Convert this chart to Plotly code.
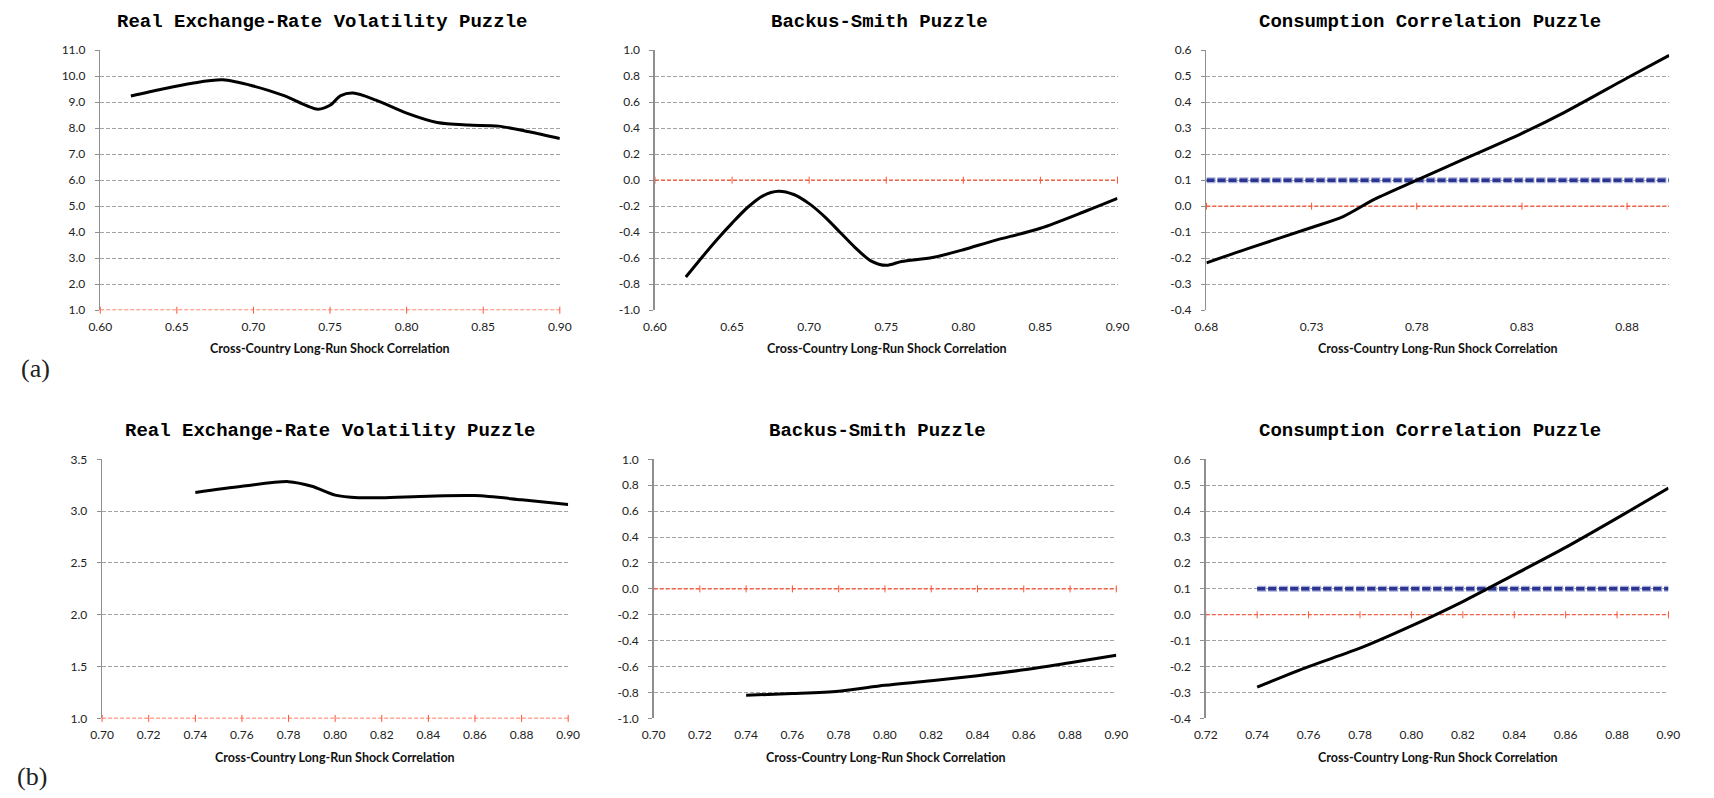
import plotly.graph_objects as go

W, H = 1714, 798

# ---------------- data ----------------
# Row (a)
a_vol_x = [0.62, 0.64, 0.66, 0.68, 0.70, 0.72, 0.742, 0.75, 0.757, 0.765, 0.78, 0.80, 0.82, 0.84, 0.86, 0.88, 0.90]
a_vol_y = [9.24, 9.50, 9.73, 9.86, 9.62, 9.25, 8.73, 8.88, 9.25, 9.35, 9.08, 8.58, 8.22, 8.12, 8.08, 7.86, 7.60]

a_bs_x = [0.62, 0.63, 0.64, 0.65, 0.66, 0.67, 0.68, 0.69, 0.70, 0.71, 0.72, 0.73, 0.74, 0.75, 0.76, 0.78, 0.80, 0.82, 0.85, 0.88, 0.90]
a_bs_y = [-0.745, -0.60, -0.46, -0.33, -0.21, -0.12, -0.085, -0.11, -0.18, -0.28, -0.40, -0.52, -0.62, -0.655, -0.625, -0.595, -0.535, -0.465, -0.37, -0.235, -0.14]

a_cc_x = [0.68, 0.70, 0.73, 0.745, 0.76, 0.78, 0.80, 0.83, 0.85, 0.88, 0.90]
a_cc_y = [-0.218, -0.162, -0.082, -0.04, 0.027, 0.10, 0.172, 0.28, 0.36, 0.493, 0.58]
a_cc_bench_x = [0.68, 0.90]
a_cc_bench_y = [0.1, 0.1]

# Row (b)
b_vol_x = [0.74, 0.76, 0.78, 0.79, 0.80, 0.81, 0.82, 0.84, 0.86, 0.88, 0.90]
b_vol_y = [3.18, 3.24, 3.285, 3.24, 3.155, 3.13, 3.13, 3.145, 3.15, 3.11, 3.065]

b_bs_x = [0.74, 0.76, 0.78, 0.80, 0.82, 0.84, 0.86, 0.88, 0.90]
b_bs_y = [-0.821, -0.808, -0.79, -0.745, -0.71, -0.67, -0.625, -0.57, -0.513]

b_cc_x = [0.74, 0.76, 0.78, 0.80, 0.82, 0.84, 0.86, 0.88, 0.90]
b_cc_y = [-0.279, -0.20, -0.129, -0.043, 0.051, 0.155, 0.26, 0.373, 0.489]
b_cc_bench_x = [0.74, 0.90]
b_cc_bench_y = [0.1, 0.1]

# ticks
xt_a12 = [0.60, 0.65, 0.70, 0.75, 0.80, 0.85, 0.90]
xt_a3 = [0.68, 0.73, 0.78, 0.83, 0.88]
xt_b12 = [0.70, 0.72, 0.74, 0.76, 0.78, 0.80, 0.82, 0.84, 0.86, 0.88, 0.90]
xt_b3 = [0.72, 0.74, 0.76, 0.78, 0.80, 0.82, 0.84, 0.86, 0.88, 0.90]
yt_vol_a = [1.0, 2.0, 3.0, 4.0, 5.0, 6.0, 7.0, 8.0, 9.0, 10.0, 11.0]
yt_bs = [-1.0, -0.8, -0.6, -0.4, -0.2, 0.0, 0.2, 0.4, 0.6, 0.8, 1.0]
yt_cc = [-0.4, -0.3, -0.2, -0.1, 0.0, 0.1, 0.2, 0.3, 0.4, 0.5, 0.6]
yt_vol_b = [1.0, 1.5, 2.0, 2.5, 3.0, 3.5]

titles = ["Real Exchange-Rate Volatility Puzzle", "Backus-Smith Puzzle", "Consumption Correlation Puzzle"]
xlabel = "Cross-Country Long-Run Shock Correlation"

# ---------------- panels ----------------
panels = [
    dict(px=(89.5, 555.6, 43, 308), xr=(0.60, 0.90), xt=xt_a12, yt=yt_vol_a, base=1.0, x=a_vol_x, y=a_vol_y, bench=None, title=titles[0], tx=314, ty=14, lx=323, ly=347),
    dict(px=(652.1, 1121.2, 43, 308), xr=(0.60, 0.90), xt=xt_a12, yt=yt_bs, base=0.0, x=a_bs_x, y=a_bs_y, bench=None, title=titles[1], tx=879.6, ty=14, lx=887, ly=347),
    dict(px=(1211.4, 1680.7, 43, 308), xr=(0.68, 0.90), xt=xt_a3, yt=yt_cc, base=0.0, x=a_cc_x, y=a_cc_y, bench=(a_cc_bench_x, a_cc_bench_y), title=titles[2], tx=1438, ty=14, lx=1446, ly=347),
    dict(px=(91.4, 564.1, 460, 724), xr=(0.70, 0.90), xt=xt_b12, yt=yt_vol_b, base=1.0, x=b_vol_x, y=b_vol_y, bench=None, title=titles[0], tx=322.8, ty=431, lx=328, ly=764),
    dict(px=(650.7, 1120.0, 460, 724), xr=(0.70, 0.90), xt=xt_b12, yt=yt_bs, base=0.0, x=b_bs_x, y=b_bs_y, bench=None, title=titles[1], tx=878, ty=431, lx=886, ly=764),
    dict(px=(1210.7, 1680.0, 460, 724), xr=(0.72, 0.90), xt=xt_b3, yt=yt_cc, base=0.0, x=b_cc_x, y=b_cc_y, bench=(b_cc_bench_x, b_cc_bench_y), title=titles[2], tx=1438, ty=431, lx=1446, ly=764),
]

RED = "#ff5233"
GRID = "#a3a3a3"
AXIS = "#8f8f8f"
TICKFONT = dict(family="Lato", size=12, color="#222222")

fig = go.Figure()
layout = dict(
    width=W, height=H,
    margin=dict(l=0, r=0, t=0, b=0),
    paper_bgcolor="white", plot_bgcolor="white",
    showlegend=False,
    annotations=[],
)


def fmt(v, nd):
    return f"{v:.{nd}f}"


for i, p in enumerate(panels):
    n = "" if i == 0 else str(i + 1)
    xa, ya = "x" + n, "y" + n
    l, r, t, b = p["px"]
    layout["xaxis" + n] = dict(
        domain=[l / W, r / W], range=list(p["xr"]), anchor=ya,
        tickvals=p["xt"], ticktext=[fmt(v, 2) for v in p["xt"]],
        showgrid=False, zeroline=False, showline=False,
        ticks="outside", ticklen=5, tickcolor="rgba(0,0,0,0)",
        tickfont=TICKFONT, fixedrange=True,
    )
    layout["yaxis" + n] = dict(
        domain=[1 - b / H, 1 - t / H], range=[p["yt"][0], p["yt"][-1]], anchor=xa,
        tickvals=p["yt"], ticktext=[fmt(v, 1) for v in p["yt"]],
        showgrid=True, gridcolor=GRID, gridwidth=1, griddash="4px,2px",
        zeroline=False, showline=True, linecolor=AXIS, linewidth=1.5,
        ticks="outside", ticklen=4, tickcolor=AXIS, tickwidth=1,
        ticklabelstandoff=7,
        tickfont=TICKFONT, fixedrange=True,
    )
    # red dashed horizontal axis line with its tick marks
    fig.add_trace(go.Scatter(
        x=[p["xr"][0], p["xr"][1]], y=[p["base"], p["base"]], xaxis=xa, yaxis=ya,
        mode="lines", line=dict(color=RED, width=1.2, dash="4px,2px"), hoverinfo="skip", cliponaxis=False))
    fig.add_trace(go.Scatter(
        x=p["xt"], y=[p["base"]] * len(p["xt"]), xaxis=xa, yaxis=ya,
        mode="markers", marker=dict(symbol="line-ns", size=5, line=dict(color=RED, width=1)),
        hoverinfo="skip", cliponaxis=False))
    if p["bench"] is not None:
        bx, by = p["bench"]
        fig.add_trace(go.Scatter(
            x=bx, y=by, xaxis=xa, yaxis=ya, mode="lines",
            line=dict(color="#a9b0dc", width=6, dash="9px,2px"), hoverinfo="skip", cliponaxis=False))
        fig.add_trace(go.Scatter(
            x=bx, y=by, xaxis=xa, yaxis=ya, mode="lines",
            line=dict(color="#2b3590", width=3.5, dash="8px,3px"), hoverinfo="skip", cliponaxis=False))
    fig.add_trace(go.Scatter(
        x=p["x"], y=p["y"], xaxis=xa, yaxis=ya, mode="lines",
        line=dict(color="black", width=3, shape="spline", smoothing=0.8), hoverinfo="skip", cliponaxis=False))

    layout["annotations"].append(dict(
        text="<b>" + p["title"] + "</b>", xref="paper", yref="paper",
        x=p["tx"] / W, y=1 - p["ty"] / H, xanchor="center", yanchor="middle", showarrow=False,
        font=dict(family="Liberation Mono", size=19, color="black")))
    layout["annotations"].append(dict(
        text="<b>" + xlabel + "</b>", xref="paper", yref="paper",
        x=p["lx"] / W, y=1 - p["ly"] / H, xanchor="center", yanchor="middle", showarrow=False,
        font=dict(family="Lato", size=12.5, color="#111111")))

for lab, xx, yy in [("(a)", 24, 367), ("(b)", 20, 783)]:
    layout["annotations"].append(dict(
        text=lab, xref="paper", yref="paper", x=xx / W, y=1 - yy / H,
        xanchor="center", yanchor="middle", showarrow=False,
        font=dict(family="Liberation Serif", size=26, color="#222222")))

fig.update_layout(**layout)
fig.write_html(
    "out.html",
    config={"displayModeBar": False, "staticPlot": True},
    post_script="document.body.style.margin='0';document.body.style.overflow='hidden';",
)
